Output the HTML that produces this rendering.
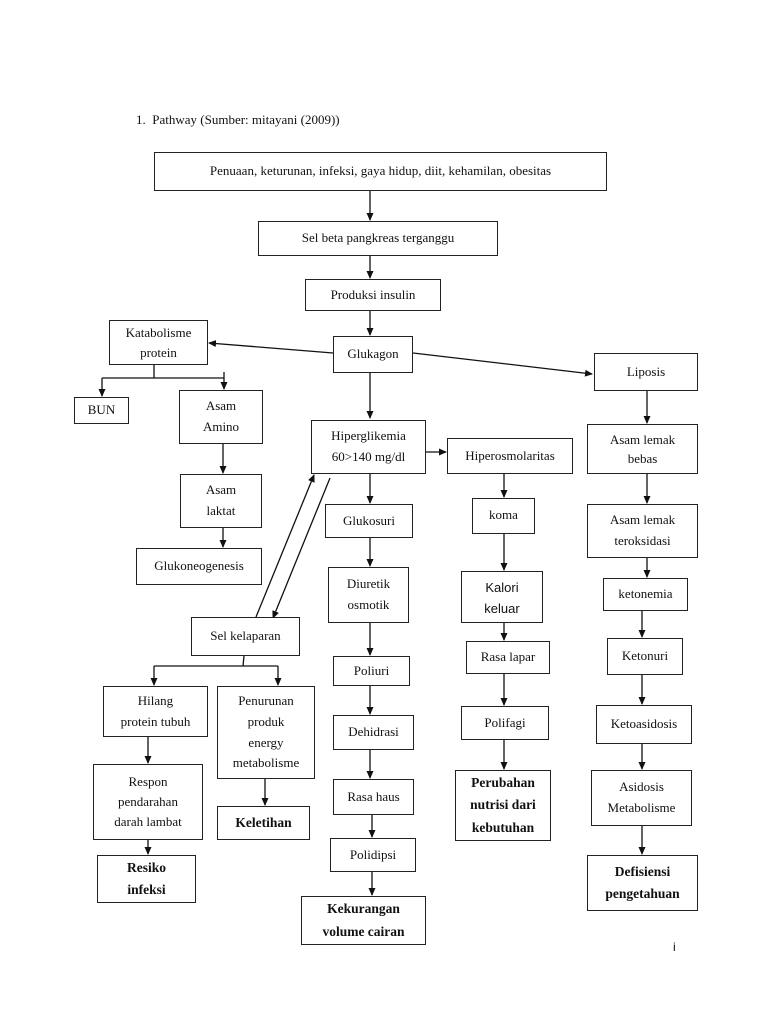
<!DOCTYPE html>
<html><head><meta charset="utf-8"><style>
body{margin:0;background:#fff;width:768px;height:1024px;position:relative;overflow:hidden;font-family:"Liberation Serif",serif;font-size:13px;color:#111}
.b{position:absolute;border:1.3px solid #222;box-sizing:border-box;display:flex;align-items:center;justify-content:center;text-align:center;line-height:1.75;background:#fff}
.bo{font-weight:bold;font-size:13.5px;line-height:1.65}
.t{position:absolute}
svg{position:absolute;left:0;top:0}
</style></head><body>
<svg width="768" height="1024">
<defs><marker id="a" markerWidth="8" markerHeight="8" refX="7" refY="4" orient="auto" markerUnits="userSpaceOnUse"><path d="M0,0.5 L8,4 L0,7.5z" fill="#111"/></marker></defs>
<g stroke="#111" stroke-width="1.3" fill="none">
<line x1="370" y1="191" x2="370" y2="220" marker-end="url(#a)"/>
<line x1="370" y1="256" x2="370" y2="278" marker-end="url(#a)"/>
<line x1="370" y1="311" x2="370" y2="335" marker-end="url(#a)"/>
<line x1="333" y1="353" x2="209" y2="343" marker-end="url(#a)"/>
<line x1="413" y1="353" x2="592" y2="374" marker-end="url(#a)"/>
<line x1="370" y1="373" x2="370" y2="418" marker-end="url(#a)"/>
<line x1="154" y1="365" x2="154" y2="378"/>
<line x1="102" y1="378" x2="224" y2="378"/>
<line x1="102" y1="378" x2="102" y2="396" marker-end="url(#a)"/>
<line x1="224" y1="372" x2="224" y2="389" marker-end="url(#a)"/>
<line x1="223" y1="444" x2="223" y2="473" marker-end="url(#a)"/>
<line x1="223" y1="528" x2="223" y2="547" marker-end="url(#a)"/>
<line x1="426" y1="452" x2="446" y2="452" marker-end="url(#a)"/>
<line x1="370" y1="474" x2="370" y2="503" marker-end="url(#a)"/>
<line x1="370" y1="538" x2="370" y2="566" marker-end="url(#a)"/>
<line x1="370" y1="623" x2="370" y2="655" marker-end="url(#a)"/>
<line x1="370" y1="686" x2="370" y2="714" marker-end="url(#a)"/>
<line x1="370" y1="750" x2="370" y2="778" marker-end="url(#a)"/>
<line x1="372" y1="815" x2="372" y2="837" marker-end="url(#a)"/>
<line x1="372" y1="872" x2="372" y2="895" marker-end="url(#a)"/>
<line x1="256" y1="617" x2="314" y2="475" marker-end="url(#a)"/>
<line x1="330" y1="478" x2="273" y2="618" marker-end="url(#a)"/>
<line x1="504" y1="474" x2="504" y2="497" marker-end="url(#a)"/>
<line x1="504" y1="534" x2="504" y2="570" marker-end="url(#a)"/>
<line x1="504" y1="612" x2="504" y2="640" marker-end="url(#a)"/>
<line x1="504" y1="674" x2="504" y2="705" marker-end="url(#a)"/>
<line x1="504" y1="740" x2="504" y2="769" marker-end="url(#a)"/>
<line x1="647" y1="391" x2="647" y2="423" marker-end="url(#a)"/>
<line x1="647" y1="474" x2="647" y2="503" marker-end="url(#a)"/>
<line x1="647" y1="558" x2="647" y2="577" marker-end="url(#a)"/>
<line x1="642" y1="611" x2="642" y2="637" marker-end="url(#a)"/>
<line x1="642" y1="675" x2="642" y2="704" marker-end="url(#a)"/>
<line x1="642" y1="744" x2="642" y2="769" marker-end="url(#a)"/>
<line x1="642" y1="826" x2="642" y2="854" marker-end="url(#a)"/>
<line x1="244" y1="656" x2="243" y2="666"/>
<line x1="154" y1="666" x2="278" y2="666"/>
<line x1="154" y1="666" x2="154" y2="685" marker-end="url(#a)"/>
<line x1="278" y1="666" x2="278" y2="685" marker-end="url(#a)"/>
<line x1="148" y1="737" x2="148" y2="763" marker-end="url(#a)"/>
<line x1="148" y1="840" x2="148" y2="854" marker-end="url(#a)"/>
<line x1="265" y1="779" x2="265" y2="805" marker-end="url(#a)"/>
</g></svg>
<div class="t" style="left:136px;top:112px">1.&nbsp;&nbsp;Pathway (Sumber: mitayani (2009))</div>
<div class="b" style="left:154px;top:152px;width:453px;height:39px">Penuaan, keturunan, infeksi, gaya hidup, diit, kehamilan, obesitas</div>
<div class="b" style="left:258px;top:221px;width:240px;height:35px">Sel beta pangkreas terganggu</div>
<div class="b" style="left:305px;top:279px;width:136px;height:32px">Produksi insulin</div>
<div class="b" style="left:109px;top:320px;width:99px;height:45px;line-height:1.5">Katabolisme<br>protein</div>
<div class="b" style="left:333px;top:336px;width:80px;height:37px">Glukagon</div>
<div class="b" style="left:594px;top:353px;width:104px;height:38px">Liposis</div>
<div class="b" style="left:74px;top:397px;width:55px;height:27px">BUN</div>
<div class="b" style="left:179px;top:390px;width:84px;height:54px;line-height:1.6">Asam<br>Amino</div>
<div class="b" style="left:311px;top:420px;width:115px;height:54px;line-height:1.6">Hiperglikemia<br>60&gt;140 mg/dl</div>
<div class="b" style="left:447px;top:438px;width:126px;height:36px">Hiperosmolaritas</div>
<div class="b" style="left:587px;top:424px;width:111px;height:50px;line-height:1.5">Asam lemak<br>bebas</div>
<div class="b" style="left:180px;top:474px;width:82px;height:54px;line-height:1.6">Asam<br>laktat</div>
<div class="b" style="left:325px;top:504px;width:88px;height:34px">Glukosuri</div>
<div class="b" style="left:472px;top:498px;width:63px;height:36px;align-items:flex-start;padding-top:5px">koma</div>
<div class="b" style="left:587px;top:504px;width:111px;height:54px;line-height:1.6">Asam lemak<br>teroksidasi</div>
<div class="b" style="left:136px;top:548px;width:126px;height:37px">Glukoneogenesis</div>
<div class="b" style="left:328px;top:567px;width:81px;height:56px;line-height:1.6">Diuretik<br>osmotik</div>
<div class="b" style="left:461px;top:571px;width:82px;height:52px;font-family:'Liberation Sans',sans-serif;line-height:1.6;overflow:hidden;align-items:flex-start;padding-top:6px">Kalori<br>keluar</div>
<div class="b" style="left:603px;top:578px;width:85px;height:33px">ketonemia</div>
<div class="b" style="left:191px;top:617px;width:109px;height:39px">Sel kelaparan</div>
<div class="b" style="left:607px;top:638px;width:76px;height:37px">Ketonuri</div>
<div class="b" style="left:466px;top:641px;width:84px;height:33px">Rasa lapar</div>
<div class="b" style="left:333px;top:656px;width:77px;height:30px">Poliuri</div>
<div class="b" style="left:103px;top:686px;width:105px;height:51px;line-height:1.6">Hilang<br>protein tubuh</div>
<div class="b" style="left:217px;top:686px;width:98px;height:93px;line-height:1.6">Penurunan<br>produk<br>energy<br>metabolisme</div>
<div class="b" style="left:461px;top:706px;width:88px;height:34px">Polifagi</div>
<div class="b" style="left:333px;top:715px;width:81px;height:35px">Dehidrasi</div>
<div class="b" style="left:596px;top:705px;width:96px;height:39px">Ketoasidosis</div>
<div class="b" style="left:93px;top:764px;width:110px;height:76px;line-height:1.55">Respon<br>pendarahan<br>darah lambat</div>
<div class="b" style="left:333px;top:779px;width:81px;height:36px">Rasa haus</div>
<div class="b" style="left:591px;top:770px;width:101px;height:56px;line-height:1.6">Asidosis<br>Metabolisme</div>
<div class="b bo" style="left:455px;top:770px;width:96px;height:71px">Perubahan<br>nutrisi dari<br>kebutuhan</div>
<div class="b bo" style="left:217px;top:806px;width:93px;height:34px">Keletihan</div>
<div class="b" style="left:330px;top:838px;width:86px;height:34px">Polidipsi</div>
<div class="b bo" style="left:97px;top:855px;width:99px;height:48px">Resiko<br>infeksi</div>
<div class="b bo" style="left:587px;top:855px;width:111px;height:56px">Defisiensi<br>pengetahuan</div>
<div class="b bo" style="left:301px;top:896px;width:125px;height:49px">Kekurangan<br>volume cairan</div>
<div class="t" style="left:673px;top:940px;font-family:'Liberation Sans',sans-serif;font-size:12px">i</div>
</body></html>
